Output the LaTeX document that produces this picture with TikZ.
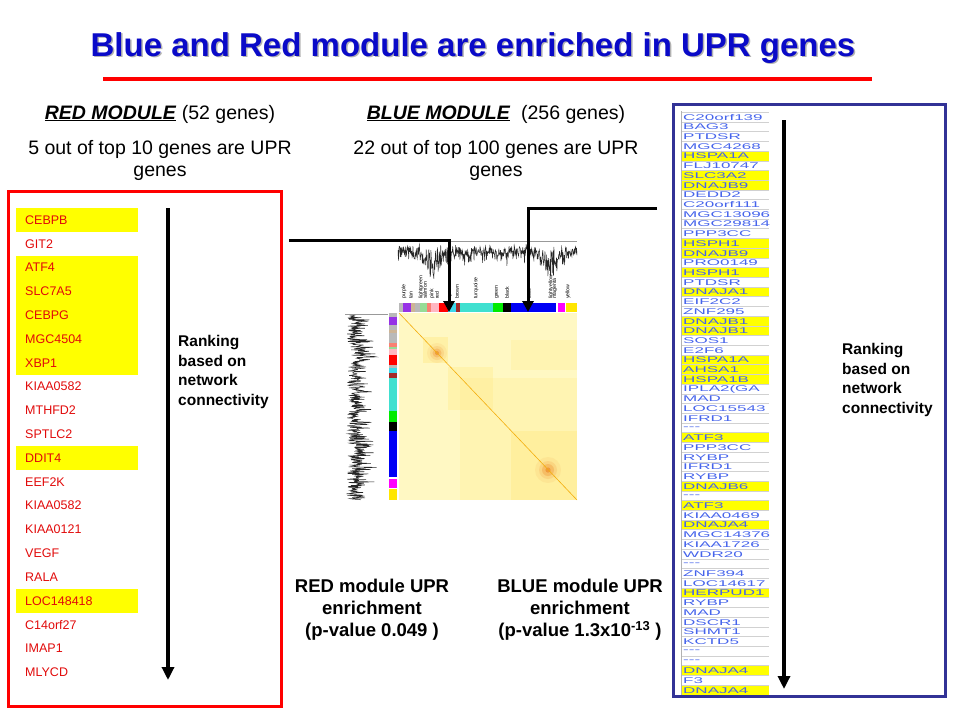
\documentclass[tikz,border=0pt]{standalone}
\usepackage{fontspec}
\setmainfont{Liberation Sans}
\usepackage{graphicx}
\usetikzlibrary{positioning,arrows.meta}

\definecolor{titleblue}{RGB}{10,10,200}
\definecolor{genered}{RGB}{225,10,10}
\definecolor{geneblue}{RGB}{70,100,235}
\definecolor{framenavy}{RGB}{50,50,150}
\definecolor{hlyellow}{RGB}{255,255,0}
\definecolor{heatbase}{RGB}{255,248,195}
\definecolor{heatdark}{RGB}{255,236,140}
\definecolor{heatspot}{RGB}{235,120,20}
\definecolor{cpurple}{RGB}{150,50,230}
\definecolor{ctan}{RGB}{205,180,150}
\definecolor{cgray}{RGB}{185,185,185}
\definecolor{clgreen}{RGB}{150,220,150}
\definecolor{csalmon}{RGB}{250,128,114}
\definecolor{cpink}{RGB}{255,182,193}
\definecolor{ccyan}{RGB}{60,215,235}
\definecolor{cbrown}{RGB}{165,42,42}
\definecolor{cturq}{RGB}{64,224,208}
\definecolor{cgreen}{RGB}{0,235,0}
\definecolor{cblue}{RGB}{0,0,245}
\definecolor{cmag}{RGB}{255,0,255}
\definecolor{cyell}{RGB}{255,230,0}

\begin{document}
\begin{tikzpicture}[x=1pt, y=-1pt, node distance=10pt,
    titletext/.style={font=\fontsize{33}{38}\selectfont\bfseries, text=titleblue, anchor=base},
    headtext/.style={font=\fontsize{19.5}{22}\selectfont, align=center},
    redgene/.style={font=\fontsize{12.5}{14}\selectfont, text=genered, anchor=west, inner sep=0pt},
    bluegene/.style={font=\fontsize{8.3}{9}\selectfont, text=geneblue, anchor=west, inner sep=0pt},
    ranktext/.style={font=\fontsize{15.5}{19.5}\selectfont\bfseries, align=left, anchor=west, inner sep=0pt},
    pvaltext/.style={font=\fontsize{18.5}{22}\selectfont\bfseries, align=center, inner sep=0pt},
    colorlbl/.style={font=\fontsize{5.2}{5.5}\selectfont, rotate=90, anchor=west, inner sep=0pt},
    rankarrow/.style={line width=3.2pt, -{Triangle[length=13pt,width=12pt]}},
    hitarrow/.style={line width=3pt, -{Triangle[length=11pt,width=11pt]}},
    dendro/.style={line width=0.5pt, black!85}]
    \useasboundingbox (0,0) rectangle (960,720);

    % title
    \node[titletext, text=black!30] (titleshadow) at (474.5,57.5) {Blue and Red module are enriched in UPR genes};
    \node[titletext] (title) at (473,56) {Blue and Red module are enriched in UPR genes};
    \draw[red, line width=4pt] (103,79) -- (872,79);

    % headers
    \node[headtext, anchor=base] (redhead) at (160,119) {\underline{\textbf{\textit{RED MODULE}}} (52 genes)};
    \node[headtext, below=of redhead] (redcount) {5 out of top 10 genes are UPR\\genes};
    \node[headtext, anchor=base] (bluehead) at (496,119) {\underline{\textbf{\textit{BLUE MODULE}}}\ \ (256 genes)};
    \node[headtext, below=of bluehead] (bluecount) {22 out of top 100 genes are UPR\\genes};

    % red module list
    \draw[red, line width=3pt] (8,191) rectangle (281,706);
    \foreach \i in {1,3,4,5,6,7,11,17}
        \fill[hlyellow] (16,{208+(\i-1)*23.8}) rectangle (138,{232+(\i-1)*23.8});
    \foreach \g [count=\i] in {CEBPB,GIT2,ATF4,SLC7A5,CEBPG,MGC4504,XBP1,KIAA0582,MTHFD2,SPTLC2,
        DDIT4,EEF2K,KIAA0582,KIAA0121,VEGF,RALA,LOC148418,C14orf27,IMAP1,MLYCD}
        \node[redgene] (r\i) at (25,{220+(\i-1)*23.8}) {\g};
    \coordinate (redtop) at (168,208);
    \coordinate (redend) at (168,680);
    \draw[rankarrow] (redtop) -- (redend);
    \node[ranktext] (redrank) at (178,372) {Ranking\\based on\\network\\connectivity};

    % blue module list
    \draw[framenavy, line width=3pt] (673,104) rectangle (945,696);
    \begin{scope}
        \clip (681,111) rectangle (769,695);
        \foreach \i in {5,7,8,14,15,17,19,22,23,26,27,28,34,39,41,43,50,58,60}
            \fill[hlyellow] (681,{112.15+(\i-1)*9.71}) rectangle (769,{121.86+(\i-1)*9.71});
        \foreach \k in {0,...,59}
            \draw[black!18, line width=0.4pt] (681,{112.15+\k*9.71}) -- (769,{112.15+\k*9.71});
        \draw[black!30, line width=0.5pt] (681.5,111) -- (681.5,695);
        \foreach \g [count=\i] in {C20orf139,BAG3,PTDSR,MGC4268,HSPA1A,FLJ10747,SLC3A2,DNAJB9,DEDD2,C20orf111,
            MGC13096,MGC29814,PPP3CC,HSPH1,DNAJB9,PRO0149,HSPH1,PTDSR,DNAJA1,EIF2C2,
            ZNF295,DNAJB1,DNAJB1,SOS1,E2F6,HSPA1A,AHSA1,HSPA1B,IPLA2(GA,MAD,
            LOC15543,IFRD1,{-}{-}{-},ATF3,PPP3CC,RYBP,IFRD1,RYBP,DNAJB6,{-}{-}{-},
            ATF3,KIAA0469,DNAJA4,MGC14376,KIAA1726,WDR20,{-}{-}{-},ZNF394,LOC14617,HERPUD1,
            RYBP,MAD,DSCR1,SHMT1,KCTD5,{-}{-}{-},{-}{-}{-},DNAJA4,F3,DNAJA4}
            \node[bluegene] (b\i) at (683,{117.3+(\i-1)*9.71}) {\scalebox{2.05}[1]{\g}};
    \end{scope}
    \coordinate (bluetop) at (784,120);
    \coordinate (blueend) at (784,689);
    \draw[rankarrow] (bluetop) -- (blueend);
    \node[ranktext] (bluerank) at (842,380) {Ranking\\based on\\network\\connectivity};

    % heat map
    \fill[heatbase] (399,313) rectangle (577,500);
    \fill[heatdark, opacity=0.5] (423,337) rectangle (448,363);
    \fill[heatdark, opacity=0.4] (448,367) rectangle (493,410);
    \fill[heatdark, opacity=0.3] (460,378) rectangle (577,500);
    \fill[heatdark, opacity=0.3] (511,340) rectangle (577,370);
    \fill[heatdark, opacity=0.5] (511,431) rectangle (577,500);
    \foreach \r/\R/\o in {10/13/0.08,7/9/0.14,4.5/6/0.25,2/2.6/0.5} {
        \fill[heatspot, opacity=\o] (437,353) circle (\r pt);
        \fill[heatspot, opacity=\o] (548,470) circle (\R pt);
    }
    \draw[heatspot!60!yellow, line width=0.6pt] (399,313) -- (577,500);
    \foreach \a/\b/\c in {399/403/cgray,403/411/cpurple,411/415/ctan,415/420/cgray,420/427/clgreen,
        427/431/csalmon,431/439/cpink,439/448/red,448/456/ccyan,456/460/cbrown,460/493/cturq,
        493/503/cgreen,503/511/black,511/556/cblue,558/565/cmag,566/577/cyell}
        \fill[\c] (\a,303) rectangle (\b,312);
    \foreach \a/\b/\c in {313/317/cgray,317/325/cpurple,325/330/cgray,330/333/ctan,333/343/cgray,
        343/347/csalmon,347/349/clgreen,349/355/cpink,355/365/red,365/368/cgray,368/373/ccyan,
        373/378/cbrown,378/411/cturq,411/422/cgreen,422/431/black,431/477/cblue,479/488/cmag,489/500/cyell}
        \fill[\c] (389,\a) rectangle (397,\b);
    \foreach \t/\x in {purple/404,tan/411,lightgreen/421,salmon/425,pink/432,red/437,cyan/450,brown/457,
        turquoise/476,green/497,black/507,blue/529,lightyellow/551,magenta/555,yellow/568}
        \node[colorlbl] (lbl-\t) at (\x,299) {\t};

    % dendrograms
    \pgfmathsetseed{11}
    \draw[black!40, line width=0.3pt] (398,241) -- (577,241);
    \draw[dendro] plot[domain=398:577, samples=420]
        (\x,{244+9*rnd+14*rnd*rnd+32*exp(-((\x-432)/9)^2)*rnd+22*exp(-((\x-550)/11)^2)*rnd});
    \draw[black!40, line width=0.3pt] (345,314) -- (388,314);
    \draw[dendro] plot[domain=315:500, samples=420]
        ({346+12*rnd+22*rnd*rnd+12*exp(-((\x-355)/8)^2)*rnd}, \x);

    % connectors to the modules
    \coordinate (redfrom) at (289,240);
    \coordinate (redbar) at (449,312);
    \coordinate (bluefrom) at (657,208);
    \coordinate (bluebar) at (528,312);
    \draw[hitarrow] (redfrom) -| (redbar);
    \draw[hitarrow] (bluefrom) -| (bluebar);

    % enrichment
    \node[pvaltext] (redpval) at (372,610) {RED module UPR\\enrichment\\(p-value 0.049 )};
    \node[pvaltext] (bluepval) at (580,610) {BLUE module UPR\\enrichment\\(p-value 1.3x10\textsuperscript{-13} )};
\end{tikzpicture}
\end{document}
